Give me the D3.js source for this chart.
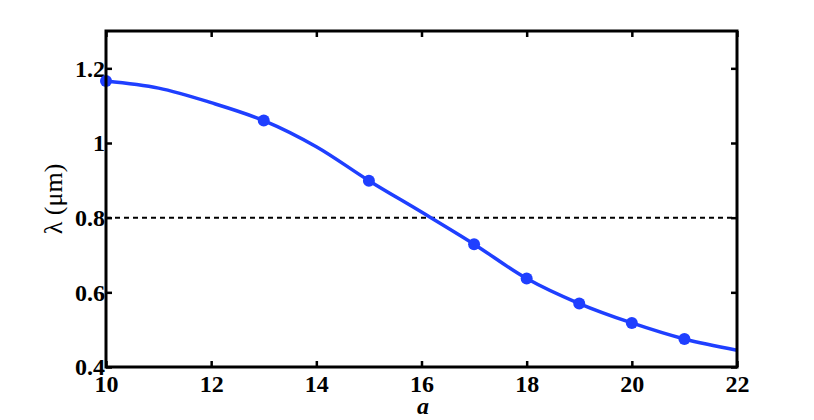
<!DOCTYPE html>
<html>
<head>
<meta charset="utf-8">
<script src="https://cdn.jsdelivr.net/npm/d3@7"></script>
<style>
	body { margin: 0; background: #fff; }
	svg text { font-family: "Liberation Serif", "Times New Roman", serif; }
	.tick text { font-weight: bold; font-size: 24px !important; }
</style>
</head>
<body>
<script>
	// Marked points
	var markA = [10, 13, 15, 17, 18, 19, 20, 21];
	var markLambda = [1.166, 1.060, 0.899, 0.729, 0.637, 0.570, 0.518, 0.475];

	// Curve
	var curveA = [10, 11, 12, 13, 14, 15, 16, 17, 18, 19, 20, 21, 22];
	var curveLambda = [1.166, 1.147, 1.108, 1.060, 0.990, 0.899, 0.815, 0.729, 0.637, 0.570, 0.518, 0.475, 0.445];

	var refLambda = 0.8;
	var xTicks = [10, 12, 14, 16, 18, 20, 22];
	var yTicks = [0.4, 0.6, 0.8, 1, 1.2];

	// Set the dimensions
	var W = 814, H = 420;
	var margin = {top: 31, right: 77, bottom: 53, left: 106};
	var w = W - margin.left - margin.right;
	var h = H - margin.top - margin.bottom;
	var blue = "#1f3fff";

	var svg = d3.select("body").
	append("svg").
	attr("width", W).
	attr("height", H).
	append("g").
	attr("transform", "translate(" + margin.left + "," + margin.top + ")");

	var x = d3.scaleLinear().domain([10, 22]).range([0, w]);
	var y = d3.scaleLinear().domain([0.4, 1.3]).range([h, 0]);

	// Axes with inward ticks on all four sides
	var axes = [
		svg.append("g").
		attr("transform", "translate(0," + h + ")").
		call(d3.axisBottom(x).tickValues(xTicks).tickFormat(d3.format("d")).tickSizeInner(-6).tickSizeOuter(0).tickPadding(8)),
		svg.append("g").
		call(d3.axisTop(x).tickValues(xTicks).tickFormat("").tickSizeInner(-6).tickSizeOuter(0)),
		svg.append("g").
		call(d3.axisLeft(y).tickValues(yTicks).tickFormat(d3.format("")).tickSizeInner(-6).tickSizeOuter(0).tickPadding(1)),
		svg.append("g").
		attr("transform", "translate(" + w + ",0)").
		call(d3.axisRight(y).tickValues(yTicks).tickFormat("").tickSizeInner(-6).tickSizeOuter(0))
	];

	axes.forEach(function (g) {
		g.attr("font-size", 24).
		attr("font-family", "Liberation Serif").
		attr("font-weight", "bold");
		g.select(".domain").remove();
		g.selectAll(".tick line").attr("stroke", "#000").attr("stroke-width", 2.5);
		g.selectAll(".tick text").attr("fill", "#000");
	});

	// Reference line
	svg.append("line").
	attr("x1", 0).
	attr("x2", w).
	attr("y1", y(refLambda)).
	attr("y2", y(refLambda)).
	style("stroke", "#000").
	style("stroke-width", 2).
	style("stroke-dasharray", "5,4");

	// Curve
	var line = d3.line().
	x(function (d, i) {return x(curveA[i]);}).
	y(function (d) {return y(d);}).
	curve(d3.curveCatmullRom.alpha(0.5));

	svg.append("path").
	datum(curveLambda).
	attr("d", line).
	style("fill", "none").
	style("stroke", blue).
	style("stroke-width", 3.5);

	svg.selectAll(".dot").
	data(markLambda).
	enter().append("circle").
	attr("class", "dot").
	attr("cx", function (d, i) {return x(markA[i]);}).
	attr("cy", function (d) {return y(d);}).
	attr("r", 6).
	style("fill", blue);

	// Frame
	svg.append("rect").
	attr("width", w).
	attr("height", h).
	style("fill", "none").
	style("stroke", "#000").
	style("stroke-width", 3);

	// Axis labels
	svg.append("text").
	attr("transform", "translate(" + (62 - margin.left) + "," + (199 - margin.top) + ") rotate(-90)").
	attr("text-anchor", "middle").
	style("font-size", "26px").
	text("λ (μm)");

	svg.append("text").
	attr("x", 423 - margin.left).
	attr("y", 414 - margin.top).
	attr("text-anchor", "middle").
	style("font-size", "24px").
	style("font-weight", "bold").
	style("font-style", "italic").
	text("a");
</script>
</body>
</html>
